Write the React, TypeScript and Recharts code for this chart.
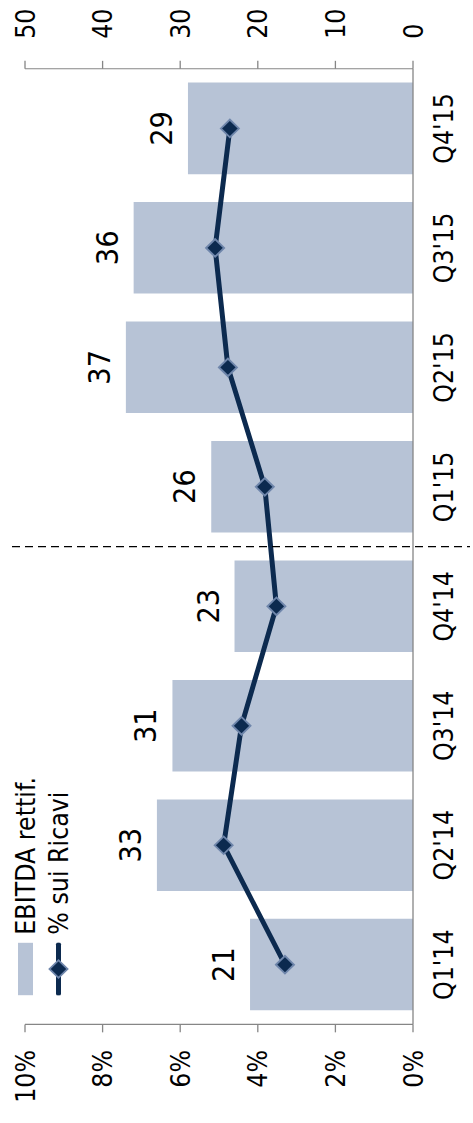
import {
  Bar,
  ComposedChart,
  LabelList,
  Legend,
  Line,
  ReferenceLine,
  XAxis,
  YAxis,
} from "recharts";

// dati
const quarters = ["Q1'14", "Q2'14", "Q3'14", "Q4'14", "Q1'15", "Q2'15", "Q3'15", "Q4'15"];
const ebitda = [21, 33, 31, 23, 26, 37, 36, 29];
const marginPct = [3.3, 4.88, 4.42, 3.52, 3.82, 4.77, 5.1, 4.72];
const pctTicks = [0, 2, 4, 6, 8, 10];
const valTicks = [0, 10, 20, 30, 40, 50];
const yearSplit = 4; // separatore 2014 / 2015

const COLORS = {
  bar: "#b7c3d6",
  line: "#0c2a4f",
  marker: "#6f86ab",
  axis: "#868686",
};

const FONT = "DejaVu Sans";
const SQUEEZE = 0.88; // il grafico originale e' leggermente compresso
const W = Math.round(1123 / SQUEEZE);
const H = 473;

const data = quarters.map((q, i) => ({
  q,
  pos: i + 0.5,
  ebitda: ebitda[i],
  pct: marginPct[i],
}));

const tick = { fontSize: 27, fill: "#000", fontFamily: FONT };

function Diamond(props: any) {
  const { cx, cy, index } = props;
  if (cx == null || cy == null) return null;
  const dx = 10;
  const dy = 9;
  return (
    <polygon
      key={index}
      points={`${cx},${cy - dy} ${cx + dx},${cy} ${cx},${cy + dy} ${cx - dx},${cy}`}
      fill={COLORS.line}
      stroke={COLORS.marker}
      strokeWidth={2}
    />
  );
}

function LegendBox() {
  const row = { display: "flex", alignItems: "center", height: 33 };
  const text = { fontSize: 27, fontFamily: FONT, color: "#000", marginLeft: 9, whiteSpace: "nowrap" as const };
  return (
    <div>
      <div style={row}>
        <svg width={60} height={33}>
          <rect x={0} y={9} width={60} height={15} fill={COLORS.bar} />
        </svg>
        <span style={text}>EBITDA rettif.</span>
      </div>
      <div style={row}>
        <svg width={60} height={33}>
          <line x1={2} x2={58} y1={16.5} y2={16.5} stroke={COLORS.line} strokeWidth={5} strokeLinecap="round" />
          <polygon
            points="30,7.5 40,16.5 30,25.5 20,16.5"
            fill={COLORS.line}
            stroke={COLORS.marker}
            strokeWidth={2}
          />
        </svg>
        <span style={text}>% sui Ricavi</span>
      </div>
    </div>
  );
}

export default function App() {
  return (
    <div
      style={{
        position: "absolute",
        left: 0,
        top: 0,
        width: 473,
        height: 1123,
        overflow: "hidden",
        background: "#fff",
      }}
    >
      {/* grafico disegnato in orizzontale e ruotato di 90° */}
      <div
        style={{
          position: "absolute",
          left: 0,
          top: 1123,
          width: W,
          height: H,
          transform: `rotate(-90deg) scaleX(${SQUEEZE})`,
          transformOrigin: "0 0",
          fontFamily: FONT,
        }}
      >
        <ComposedChart
          width={W}
          height={H}
          data={data}
          margin={{ top: 25, right: 0, bottom: 0, left: 0 }}
        >
          <XAxis
            dataKey="q"
            interval={0}
            height={60}
            tick={tick}
            tickLine={false}
            tickSize={0}
            tickMargin={21}
            axisLine={{ stroke: COLORS.axis, strokeWidth: 1.3 }}
          />
          <XAxis
            xAxisId="n"
            dataKey="pos"
            type="number"
            domain={[0, quarters.length]}
            allowDataOverflow
            hide
          />
          <YAxis
            yAxisId="pct"
            domain={[0, 10]}
            ticks={pctTicks}
            tickFormatter={(v) => `${v}%`}
            width={112}
            tick={tick}
            tickSize={9}
            tickMargin={20}
            axisLine={{ stroke: COLORS.axis, strokeWidth: 1.3 }}
            tickLine={{ stroke: COLORS.axis, strokeWidth: 1.3 }}
          />
          <YAxis
            yAxisId="val"
            orientation="right"
            domain={[0, 50]}
            ticks={valTicks}
            width={78}
            tick={tick}
            tickSize={9}
            tickMargin={25}
            axisLine={{ stroke: COLORS.axis, strokeWidth: 1.3 }}
            tickLine={{ stroke: COLORS.axis, strokeWidth: 1.3 }}
          />
          <Legend
            layout="horizontal"
            verticalAlign="middle"
            align="center"
            wrapperStyle={{ top: 9, left: 145, width: 320, height: 70 }}
            content={() => <LegendBox />}
          />
          <Bar
            yAxisId="val"
            dataKey="ebitda"
            name="EBITDA rettif."
            fill={COLORS.bar}
            barSize={104}
            isAnimationActive={false}
          >
            <LabelList
              dataKey="ebitda"
              position="top"
              offset={16}
              fill="#000"
              fontSize={31}
              fontFamily={FONT}
            />
          </Bar>
          <Line
            yAxisId="pct"
            dataKey="pct"
            name="% sui Ricavi"
            stroke={COLORS.line}
            strokeWidth={5}
            dot={Diamond}
            activeDot={false}
            isAnimationActive={false}
          />
          <ReferenceLine
            x={yearSplit}
            xAxisId="n"
            yAxisId="pct"
            stroke="#000"
            strokeWidth={1.5}
            strokeDasharray="8 5"
            shape={(p: any) => (
              <line
                x1={p.x1}
                x2={p.x2}
                y1={Math.min(p.y1, p.y2) - 13}
                y2={Math.max(p.y1, p.y2) + 57}
                stroke="#000"
                strokeWidth={1.5}
                strokeDasharray="8 5"
              />
            )}
          />
        </ComposedChart>
      </div>
    </div>
  );
}
